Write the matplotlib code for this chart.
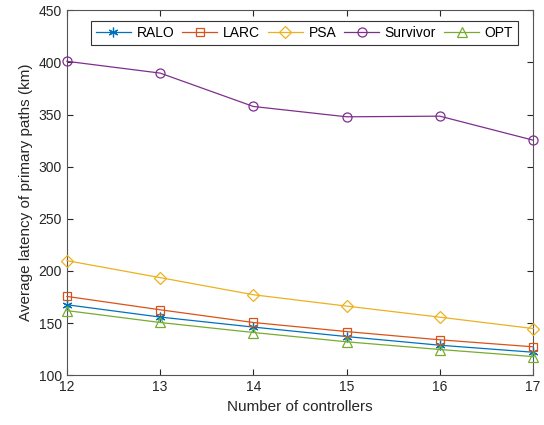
import numpy as np
import matplotlib.pyplot as plt

plt.rcParams['font.family'] = ['Liberation Sans', 'DejaVu Sans']

controllers = [12, 13, 14, 15, 16, 17]
ralo = [167.6, 155.8, 146.2, 137.1, 128.8, 122.1]
larc = [175.6, 162.8, 150.6, 141.9, 134.0, 127.3]
psa = [209.9, 193.6, 177.2, 166.3, 155.7, 144.8]
survivor = [401.0, 389.7, 357.7, 347.8, 348.4, 325.4]
opt = [162.0, 150.6, 141.0, 132.1, 124.7, 117.9]

fig = plt.figure(figsize=(5.44, 4.25), dpi=100)
ax = fig.add_axes([0.123, 0.117, 0.857, 0.859])

kw = dict(mfc='none', lw=0.9, mew=0.9, clip_on=False, zorder=3)
ax.plot(controllers, ralo, color='#0072BD', marker=(6, 2, 0), ms=7, label='RALO', **kw)
ax.plot(controllers, larc, color='#D95319', marker='s', ms=6, label='LARC', **kw)
ax.plot(controllers, psa, color='#EDB120', marker='D', ms=6, label='PSA', **kw)
ax.plot(controllers, survivor, color='#7E2F8E', marker='o', ms=6.5, label='Survivor', **kw)
ax.plot(controllers, opt, color='#77AC30', marker='^', ms=7, label='OPT', **kw)

ax.set_xlim(12, 17)
ax.set_ylim(100, 450)
ax.set_xticks(controllers)
ax.set_yticks(np.arange(100, 451, 50))
ax.tick_params(direction='in', top=True, right=True, labelsize=10, length=4, colors='#262626')
for s in ax.spines.values():
    s.set_color('#555555')
    s.set_linewidth(0.8)

ax.set_xlabel('Number of controllers', fontsize=11, color='#262626')
ax.set_ylabel('Average latency of primary paths (km)', fontsize=11, color='#262626')

leg = ax.legend(ncol=5, loc='upper center', bbox_to_anchor=(0.51, 0.97), fontsize=10,
                frameon=True, fancybox=False, edgecolor='black', handlelength=2.5,
                columnspacing=0.6, handletextpad=0.4, borderpad=0.35, borderaxespad=0)
leg.get_frame().set_linewidth(0.8)

fig.savefig('out.png', dpi=100)
